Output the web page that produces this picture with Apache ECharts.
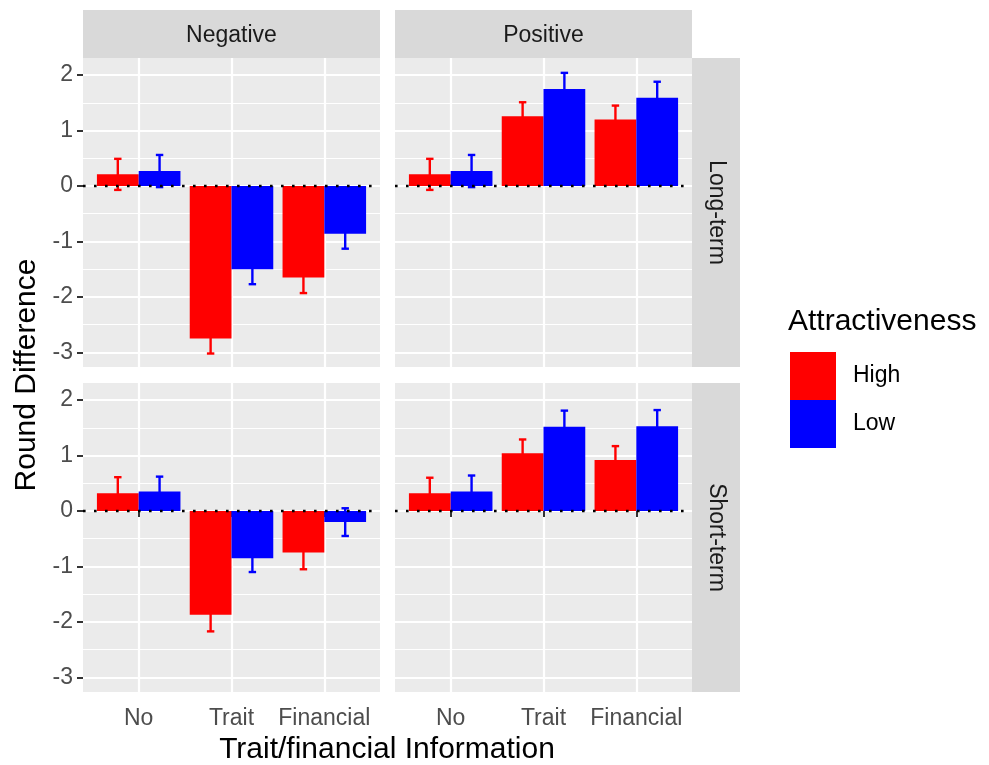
<!DOCTYPE html>
<html>
<head>
<meta charset="utf-8">
<script src="https://cdn.jsdelivr.net/npm/echarts@6/dist/echarts.min.js"></script>
<style>
  html, body { margin: 0; padding: 0; background: #ffffff; }
  #chart { width: 989px; height: 765px; }
</style>
</head>
<body>
<div id="chart"></div>
<script>
// Categories and facet labels
const categories = ['No', 'Trait', 'Financial'];
const valenceLabels = ['Negative', 'Positive'];
const termLabels = ['Long-term', 'Short-term'];
const groupNames = ['High', 'Low'];

// Axis tick values
const yMajorTicks = [-3, -2, -1, 0, 1, 2];
const yMinorTicks = [-2.5, -1.5, -0.5, 0.5, 1.5];

// Mean round difference (one value per category) and standard errors
const longNegHigh = [0.21, -2.75, -1.65];
const longNegHighSe = [0.28, 0.27, 0.28];
const longNegLow = [0.27, -1.50, -0.86];
const longNegLowSe = [0.29, 0.27, 0.27];

const longPosHigh = [0.21, 1.26, 1.20];
const longPosHighSe = [0.28, 0.25, 0.25];
const longPosLow = [0.27, 1.75, 1.59];
const longPosLowSe = [0.29, 0.29, 0.29];

const shortNegHigh = [0.32, -1.87, -0.75];
const shortNegHighSe = [0.29, 0.30, 0.30];
const shortNegLow = [0.35, -0.85, -0.20];
const shortNegLowSe = [0.27, 0.25, 0.25];

const shortPosHigh = [0.32, 1.04, 0.92];
const shortPosHighSe = [0.28, 0.25, 0.25];
const shortPosLow = [0.35, 1.52, 1.53];
const shortPosLowSe = [0.29, 0.29, 0.29];

const RED = '#ff0000';
const BLUE = '#0000ff';
const FONT = '"Liberation Sans", Arial, sans-serif';

// Panel layout: row (term) x column (valence)
const panels = [
  { left: 83,  top: 58,  high: longNegHigh,  highSe: longNegHighSe,  low: longNegLow,  lowSe: longNegLowSe,  bottom: false, leftCol: true },
  { left: 395, top: 58,  high: longPosHigh,  highSe: longPosHighSe,  low: longPosLow,  lowSe: longPosLowSe,  bottom: false, leftCol: false },
  { left: 83,  top: 383, high: shortNegHigh, highSe: shortNegHighSe, low: shortNegLow, lowSe: shortNegLowSe, bottom: true,  leftCol: true },
  { left: 395, top: 383, high: shortPosHigh, highSe: shortPosHighSe, low: shortPosLow, lowSe: shortPosLowSe, bottom: true,  leftCol: false }
];
const PANEL_W = 297, PANEL_H = 309;
const Y_MIN = -3.263, Y_MAX = 2.308;
const DODGE = 0.225, BAR_HALF = 0.225, CAP_HALF = 0.04;

function toPoints(values, extra) {
  return values.map((v, i) => extra ? [i + 1, v, extra[i]] : [i + 1, v]);
}

function barRenderer(offset) {
  return function (params, api) {
    const x = api.value(0), v = api.value(1);
    const a = api.coord([x + offset - BAR_HALF, v]);
    const b = api.coord([x + offset + BAR_HALF, 0]);
    return {
      type: 'rect',
      shape: { x: a[0], y: Math.min(a[1], b[1]), width: b[0] - a[0], height: Math.abs(b[1] - a[1]) },
      style: { fill: api.visual('color') }
    };
  };
}

function errRenderer(offset, color) {
  return function (params, api) {
    const x = api.value(0) + offset, v = api.value(1), se = api.value(2);
    const top = api.coord([x, v + se]);
    const bot = api.coord([x, v - se]);
    const l = api.coord([x - CAP_HALF, 0])[0];
    const r = api.coord([x + CAP_HALF, 0])[0];
    const st = { stroke: color, lineWidth: 2.4 };
    return {
      type: 'group',
      children: [
        { type: 'line', shape: { x1: top[0], y1: top[1], x2: bot[0], y2: bot[1] }, style: st },
        { type: 'line', shape: { x1: l, y1: top[1], x2: r, y2: top[1] }, style: st },
        { type: 'line', shape: { x1: l, y1: bot[1], x2: r, y2: bot[1] }, style: st }
      ]
    };
  };
}

function zeroRenderer(params, api) {
  const a = api.coord([0.4, api.value(0)]);
  const b = api.coord([3.6, api.value(0)]);
  return {
    type: 'line',
    shape: { x1: a[0], y1: a[1], x2: b[0], y2: b[1] },
    style: { stroke: '#000000', lineWidth: 2.6, lineDash: [2.6, 8.4] }
  };
}

const grids = [], xAxes = [], yAxes = [], series = [];

panels.forEach((p, i) => {
  grids.push({
    left: p.left, top: p.top, width: PANEL_W, height: PANEL_H,
    show: true, backgroundColor: '#ebebeb', borderWidth: 0, containLabel: false
  });
  xAxes.push({
    type: 'value', gridIndex: i, min: 0.4, max: 3.6,
    axisLine: { show: false },
    axisTick: { show: p.bottom, customValues: [1, 2, 3], length: 6, lineStyle: { color: '#333333', width: 2 } },
    axisLabel: {
      show: p.bottom, customValues: [1, 2, 3], margin: 15,
      fontSize: 23, fontFamily: FONT, color: '#4d4d4d',
      formatter: v => categories[Math.round(v) - 1]
    },
    splitLine: { show: true, lineStyle: { color: '#ffffff', width: 2.2 } }
  });
  // major y gridlines, ticks and labels
  yAxes.push({
    type: 'value', gridIndex: i, min: Y_MIN, max: Y_MAX,
    axisLine: { show: false },
    axisTick: { show: p.leftCol, customValues: yMajorTicks, length: 6, lineStyle: { color: '#333333', width: 2 } },
    axisLabel: {
      show: p.leftCol, customValues: yMajorTicks, margin: 10,
      fontSize: 23, fontFamily: FONT, color: '#4d4d4d'
    },
    splitLine: { show: true, lineStyle: { color: '#ffffff', width: 2.2 } }
  });
  // minor y gridlines
  yAxes.push({
    type: 'value', gridIndex: i, min: Y_MIN, max: Y_MAX, position: 'left',
    axisLine: { show: false },
    axisTick: { show: false, customValues: yMinorTicks },
    axisLabel: { show: false, customValues: yMinorTicks },
    splitLine: { show: true, lineStyle: { color: '#ffffff', width: 1.1 } }
  });
  const yi = i * 2;
  series.push({
    name: 'High', type: 'custom', xAxisIndex: i, yAxisIndex: yi,
    itemStyle: { color: RED }, renderItem: barRenderer(-DODGE),
    data: toPoints(p.high), z: 2, silent: true
  });
  series.push({
    name: 'Low', type: 'custom', xAxisIndex: i, yAxisIndex: yi,
    itemStyle: { color: BLUE }, renderItem: barRenderer(DODGE),
    data: toPoints(p.low), z: 2, silent: true
  });
  series.push({
    name: 'High SE', type: 'custom', xAxisIndex: i, yAxisIndex: yi,
    renderItem: errRenderer(-DODGE, RED),
    data: toPoints(p.high, p.highSe), z: 3, silent: true
  });
  series.push({
    name: 'Low SE', type: 'custom', xAxisIndex: i, yAxisIndex: yi,
    renderItem: errRenderer(DODGE, BLUE),
    data: toPoints(p.low, p.lowSe), z: 3, silent: true
  });
  series.push({
    name: 'zero', type: 'custom', xAxisIndex: i, yAxisIndex: yi,
    renderItem: zeroRenderer, data: [[0]], z: 4, silent: true
  });
});

// Facet strips and titles
const stripColor = '#d9d9d9';
const graphics = [
  { type: 'rect', shape: { x: 83, y: 10, width: PANEL_W, height: 48 }, style: { fill: stripColor } },
  { type: 'rect', shape: { x: 395, y: 10, width: PANEL_W, height: 48 }, style: { fill: stripColor } },
  { type: 'rect', shape: { x: 692, y: 58, width: 48, height: PANEL_H }, style: { fill: stripColor } },
  { type: 'rect', shape: { x: 692, y: 383, width: 48, height: PANEL_H }, style: { fill: stripColor } },
  { type: 'text', x: 83 + PANEL_W / 2, y: 36, style: { text: valenceLabels[0], fontSize: 23, fontFamily: FONT, fill: '#1a1a1a', align: 'center', verticalAlign: 'middle' } },
  { type: 'text', x: 395 + PANEL_W / 2, y: 36, style: { text: valenceLabels[1], fontSize: 23, fontFamily: FONT, fill: '#1a1a1a', align: 'center', verticalAlign: 'middle' } },
  { type: 'text', x: 716, y: 58 + PANEL_H / 2, rotation: -Math.PI / 2, style: { text: termLabels[0], fontSize: 23, fontFamily: FONT, fill: '#1a1a1a', align: 'center', verticalAlign: 'middle' } },
  { type: 'text', x: 716, y: 383 + PANEL_H / 2, rotation: -Math.PI / 2, style: { text: termLabels[1], fontSize: 23, fontFamily: FONT, fill: '#1a1a1a', align: 'center', verticalAlign: 'middle' } },
  { type: 'text', x: 27, y: 375, rotation: Math.PI / 2, style: { text: 'Round Difference', fontSize: 30, fontFamily: FONT, fill: '#000000', align: 'center', verticalAlign: 'middle' } },
  { type: 'text', x: 387, y: 750, style: { text: 'Trait/financial Information', fontSize: 30, fontFamily: FONT, fill: '#000000', align: 'center', verticalAlign: 'middle' } },
  { type: 'text', x: 788, y: 322, style: { text: 'Attractiveness', fontSize: 30, fontFamily: FONT, fill: '#000000', align: 'left', verticalAlign: 'middle' } }
];

const chart = echarts.init(document.getElementById('chart'), null, { renderer: 'canvas' });
chart.setOption({
  animation: false,
  backgroundColor: '#ffffff',
  grid: grids,
  xAxis: xAxes,
  yAxis: yAxes,
  series: series,
  legend: {
    data: groupNames,
    orient: 'vertical',
    left: 790, top: 352,
    padding: 0,
    itemWidth: 46, itemHeight: 48, itemGap: 0,
    icon: 'rect',
    selectedMode: false,
    textStyle: { fontSize: 23, fontFamily: FONT, color: '#000000', padding: [0, 0, 0, 12] }
  },
  graphic: graphics
});
</script>
</body>
</html>
